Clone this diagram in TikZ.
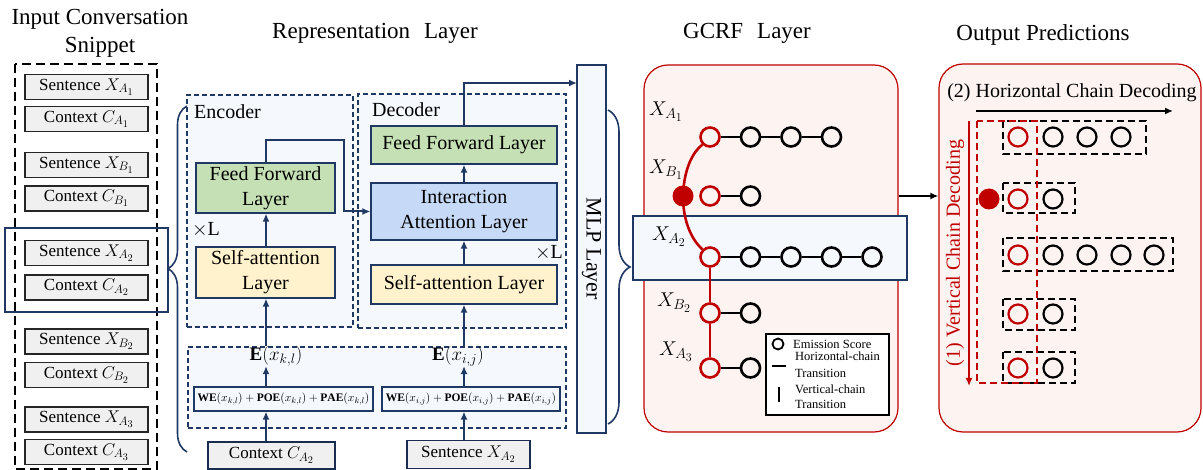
\RequirePackage{fix-cm}
\documentclass[tikz,border=0pt]{standalone}
\usepackage{amsmath,amssymb}
\usepackage{fontspec}
\setmainfont{Liberation Serif}
\usetikzlibrary{arrows.meta, positioning, fit, calc, decorations.pathreplacing}
\renewcommand\defaultscriptratio{.72}
\renewcommand\defaultscriptscriptratio{.6}

\definecolor{navy}{HTML}{203864}
\definecolor{ffgreen}{HTML}{C5E0B4}
\definecolor{sayellow}{HTML}{FFF2CC}
\definecolor{iablue}{HTML}{C6D9F6}
\definecolor{paleblue}{HTML}{F5F8FD}
\definecolor{palepink}{HTML}{FDF4F2}
\definecolor{darkred}{HTML}{C00000}

\tikzset{
  title/.style={font=\fontsize{23}{26}\selectfont, inner sep=0pt},
  inbox/.style={draw=black!85, fill=black!6, line width=1.2pt, minimum width=123pt,
    minimum height=25pt, inner sep=0pt, font=\fontsize{17}{19}\selectfont},
  layer/.style={draw=navy, line width=1.2pt, inner sep=0pt, align=center,
    font=\fontsize{20}{25}\selectfont},
  blockdash/.style={draw=navy, fill=paleblue, line width=1.4pt,
    dash pattern=on 5pt off 3pt, inner sep=0pt},
  hlbox/.style={draw=navy, line width=2.2pt, inner sep=0pt},
  arr/.style={draw=navy, line width=2pt, -{Latex[length=8pt,width=7pt]}},
  panel/.style={draw=darkred, fill=palepink, line width=1.2pt, rounded corners=24pt, inner sep=0pt},
  emis/.style={circle, draw=black, line width=2.6pt, minimum size=19pt, inner sep=0pt},
  outc/.style={line width=2.2pt},
  chain/.style={line width=2.6pt},
  redchain/.style={draw=darkred, line width=2.6pt},
  outdash/.style={line width=1.8pt, dash pattern=on 7pt off 4pt},
  lbl/.style={font=\fontsize{20}{22}\selectfont, inner sep=0pt},
  legtxt/.style={font=\fontsize{12.5}{14}\selectfont, anchor=west, inner sep=0pt},
  bigbrace/.style={draw=navy, line width=1.6pt, decorate},
}

\begin{document}
\begin{tikzpicture}[x=1pt, y=-1pt]
  \useasboundingbox (0,0) rectangle (1203,470);

  % Titles
  \node[title] (t1) at (100,19) {Input Conversation};
  \node[title] (t2) at (100,47) {Snippet};
  \node[title] (t3) at (375,33) {Representation\hspace{14pt}Layer};
  \node[title] (t4) at (747,33) {GCRF\hspace{14pt}Layer};
  \node[title] (t5) at (1043,35) {Output Predictions};

  % Input conversation snippet
  \draw[line width=2pt, dash pattern=on 9pt off 5pt] (15,64) rectangle (157,469);
  \foreach \n/\y/\txt in {1/87/Sentence\ $X_{A_1}$, 2/119/Context $C_{A_1}$,
      3/165/Sentence\ $X_{B_1}$, 4/198.5/Context $C_{B_1}$,
      5/253/Sentence\ $X_{A_2}$, 6/287.5/Context $C_{A_2}$,
      7/341.5/Sentence\ $X_{B_2}$, 8/375/Context $C_{B_2}$,
      9/419.5/Sentence\ $X_{A_3}$, 10/452/Context $C_{A_3}$}
    \node[inbox] (in\n) at (86.5,\y) {\txt};
  \node[hlbox, fit=(in5)(in6), inner xsep=19.5pt, inner ysep=11.5pt] (hl) {};
  \draw[bigbrace, decoration={brace, amplitude=19pt, aspect=0.53}] (187,452) -- (187,106);

  % Encoder
  \node[blockdash, minimum width=166pt, minimum height=232pt] (enc) at (270,211) {};
  \node[lbl, anchor=west] (enclab) at (194,112) {Encoder};
  \node[layer, fill=ffgreen, minimum width=139pt, minimum height=50pt] (encFF) at (265.5,188) {Feed Forward\\Layer};
  \node[layer, fill=sayellow, minimum width=139pt, minimum height=51pt] (encSA) at (265.5,272.5) {Self-attention\\Layer};
  \node[lbl] (encL) at (206,230) {$\times$L};

  % Decoder
  \node[blockdash, minimum width=208pt, minimum height=234pt] (dec) at (462,211) {};
  \node[lbl, anchor=west] (declab) at (372,110) {Decoder};
  \node[layer, fill=ffgreen, minimum width=186pt, minimum height=38pt] (decFF) at (464,145) {Feed Forward Layer};
  \node[layer, fill=iablue, minimum width=186pt, minimum height=57pt] (decIA) at (464,211.5) {Interaction\\Attention Layer};
  \node[layer, fill=sayellow, minimum width=186pt, minimum height=39pt] (decSA) at (464,284.5) {Self-attention Layer};
  \node[lbl] (decL) at (549,253) {$\times$L};

  % Embedding
  \node[blockdash, minimum width=378pt, minimum height=81pt] (emb) at (377,387.5) {};
  \node[font=\fontsize{19}{21}\selectfont, inner sep=0pt] (ekl) at (276,356) {$\mathbf{E}(x_{k,l})$};
  \node[font=\fontsize{19}{21}\selectfont, inner sep=0pt] (eij) at (458,356) {$\mathbf{E}(x_{i,j})$};
  \node[draw=navy, fill=paleblue, line width=1.2pt, minimum width=179pt, minimum height=24pt,
    inner sep=0pt, font=\fontsize{11.5}{12}\selectfont] (wekl) at (283.5,399)
    {$\mathbf{WE}(x_{k,l})+\mathbf{POE}(x_{k,l})+\mathbf{PAE}(x_{k,l})$};
  \node[draw=navy, fill=paleblue, line width=1.2pt, minimum width=178pt, minimum height=24pt,
    inner sep=0pt, font=\fontsize{11.5}{12}\selectfont] (weij) at (471,399)
    {$\mathbf{WE}(x_{i,j})+\mathbf{POE}(x_{i,j})+\mathbf{PAE}(x_{i,j})$};
  \node[inbox, draw=navy!80!black, minimum width=127pt, minimum height=27pt] (ctxin) at (271.5,455.5) {Context $C_{A_2}$};
  \node[inbox, draw=navy!80!black, minimum width=123pt, minimum height=28pt] (sentin) at (468.5,454.5) {Sentence $X_{A_2}$};

  % MLP
  \node[draw=navy, fill=paleblue, line width=1.6pt, minimum width=29pt, minimum height=368pt] (mlp) at (591.5,249) {};
  \node[font=\fontsize{22}{24}\selectfont, rotate=-90, inner sep=0pt] (mlplab) at (mlp.center) {MLP Layer};
  \coordinate (mlpin) at (577,83);
  \draw[bigbrace, decoration={brace, amplitude=22pt, aspect=0.5}] (608,110) -- (608,424);

  % Arrows of the representation layer
  \coordinate (lcol) at (266,0);
  \coordinate (rcol) at (464,0);
  \draw[arr] (ctxin.north -| lcol) -- (wekl.south -| lcol);
  \draw[arr] (wekl.north -| lcol) -- (ekl.south -| lcol);
  \draw[arr] (ekl.north -| lcol) -- (encSA.south -| lcol);
  \draw[arr] (encSA.north -| lcol) -- (encFF.south -| lcol);
  \draw[arr] (encFF.north -| lcol) |- (344,140) |- (decIA.west);
  \draw[arr] (sentin.north -| rcol) -- (weij.south -| rcol);
  \draw[arr] (weij.north -| rcol) -- (eij.south -| rcol);
  \draw[arr] (eij.north -| rcol) -- (decSA.south -| rcol);
  \draw[arr] (decSA.north -| rcol) -- (decIA.south -| rcol);
  \draw[arr] (decIA.north -| rcol) -- (decFF.south -| rcol);
  \draw[arr] (decFF.north -| rcol) |- (mlpin);

  % GCRF layer
  \node[panel, minimum width=254pt, minimum height=367pt] (gcrf) at (771,248.5) {};
  \node[hlbox, fill=paleblue, minimum width=274pt, minimum height=64pt] (ghl) at (770,248) {};
  \node[lbl] (la1) at (666,112) {$X_{A_1}$};
  \node[lbl] (lb1) at (666,170) {$X_{B_1}$};
  \node[lbl] (la2) at (669,237) {$X_{A_2}$};
  \node[lbl] (lb2) at (674,303) {$X_{B_2}$};
  \node[lbl] (la3) at (676,352) {$X_{A_3}$};
  \foreach \r/\y/\n in {1/137/4, 2/196/2, 3/257/5, 4/313/2, 5/368/2} {
    \node[emis, draw=darkred] (g\r-1) at (710,\y) {};
    \foreach \k in {2,...,\n} {
      \pgfmathtruncatemacro\pk{\k-1}
      \node[emis] (g\r-\k) at (710+40.5*\k-40.5,\y) {};
      \draw[chain] (g\r-\pk) -- (g\r-\k);
    }
  }
  \node[circle, fill=darkred, minimum size=21pt, inner sep=0pt] (rdot) at (683,196) {};
  \draw[redchain] (g1-1.225) .. controls (693,152) and (684,168) .. (rdot.center)
    .. controls (683,222) and (692,240) .. (g3-1.135);
  \draw[redchain] (g3-1) -- (g4-1);
  \draw[redchain] (g4-1) -- (g5-1);

  % Legend
  \node[draw=black, line width=1.2pt, fill=white, minimum width=123pt, minimum height=81pt] (leg) at (827.5,374.5) {};
  \node[circle, draw=black, line width=1.8pt, minimum size=11pt, inner sep=0pt] (legc) at (778,344) {};
  \node[legtxt] (legt1) at (793,344) {Emission Score};
  \draw[line width=1.5pt] (772,366) -- (786,366);
  \node[legtxt] (legt2) at (795,356) {Horizontal-chain};
  \node[legtxt] (legt3) at (795,373) {Transition};
  \draw[line width=1.5pt] (779,387) -- (779,402);
  \node[legtxt] (legt4) at (795,389) {Vertical-chain};
  \node[legtxt] (legt5) at (795,404) {Transition};

  % Output predictions
  \node[panel, minimum width=262pt, minimum height=368pt] (outp) at (1070,248) {};
  \draw[line width=2pt, -{Latex[length=8pt,width=7pt]}] (gcrf.east |- g2-1) -- (outp.west |- g2-1);
  \node[font=\fontsize{20}{22}\selectfont, inner sep=0pt] (hlab) at (1072,93) {(2) Horizontal Chain Decoding};
  \coordinate (hs) at (976,111);
  \coordinate (he) at (1173,111);
  \draw[line width=2pt, -{Latex[length=8pt,width=7pt]}] (hs) -- (he);
  \node[font=\fontsize{20}{22}\selectfont, text=darkred, rotate=90, inner sep=0pt] (vlab) at (955,253) {(1) Vertical Chain Decoding};
  \coordinate (vs) at (969,121);
  \coordinate (ve) at (969,386);
  \draw[darkred, line width=2pt, -{Latex[length=8pt,width=7pt]}] (vs) -- (ve);
  \foreach \ya/\yb/\xb in {121/154/1146, 183/213/1075, 238/271/1173, 299/330/1075, 352/383/1075}
    \draw[outdash] (1003,\ya) rectangle (\xb,\yb);
  \draw[outdash, darkred] (977,121) rectangle (1037,383);
  \foreach \r/\y/\n in {1/137/3, 2/199/1, 3/255/4, 4/314/1, 5/368/1} {
    \node[emis, outc, draw=darkred] (o\r-0) at (1018,\y) {};
    \foreach \k/\x in {1/1053, 2/1087, 3/1121, 4/1154} {
      \ifnum\k>\n\else \node[emis, outc] (o\r-\k) at (\x,\y) {}; \fi
    }
  }
  \node[circle, fill=darkred, minimum size=21pt, inner sep=0pt] (odot) at (989,199) {};
\end{tikzpicture}
\end{document}
